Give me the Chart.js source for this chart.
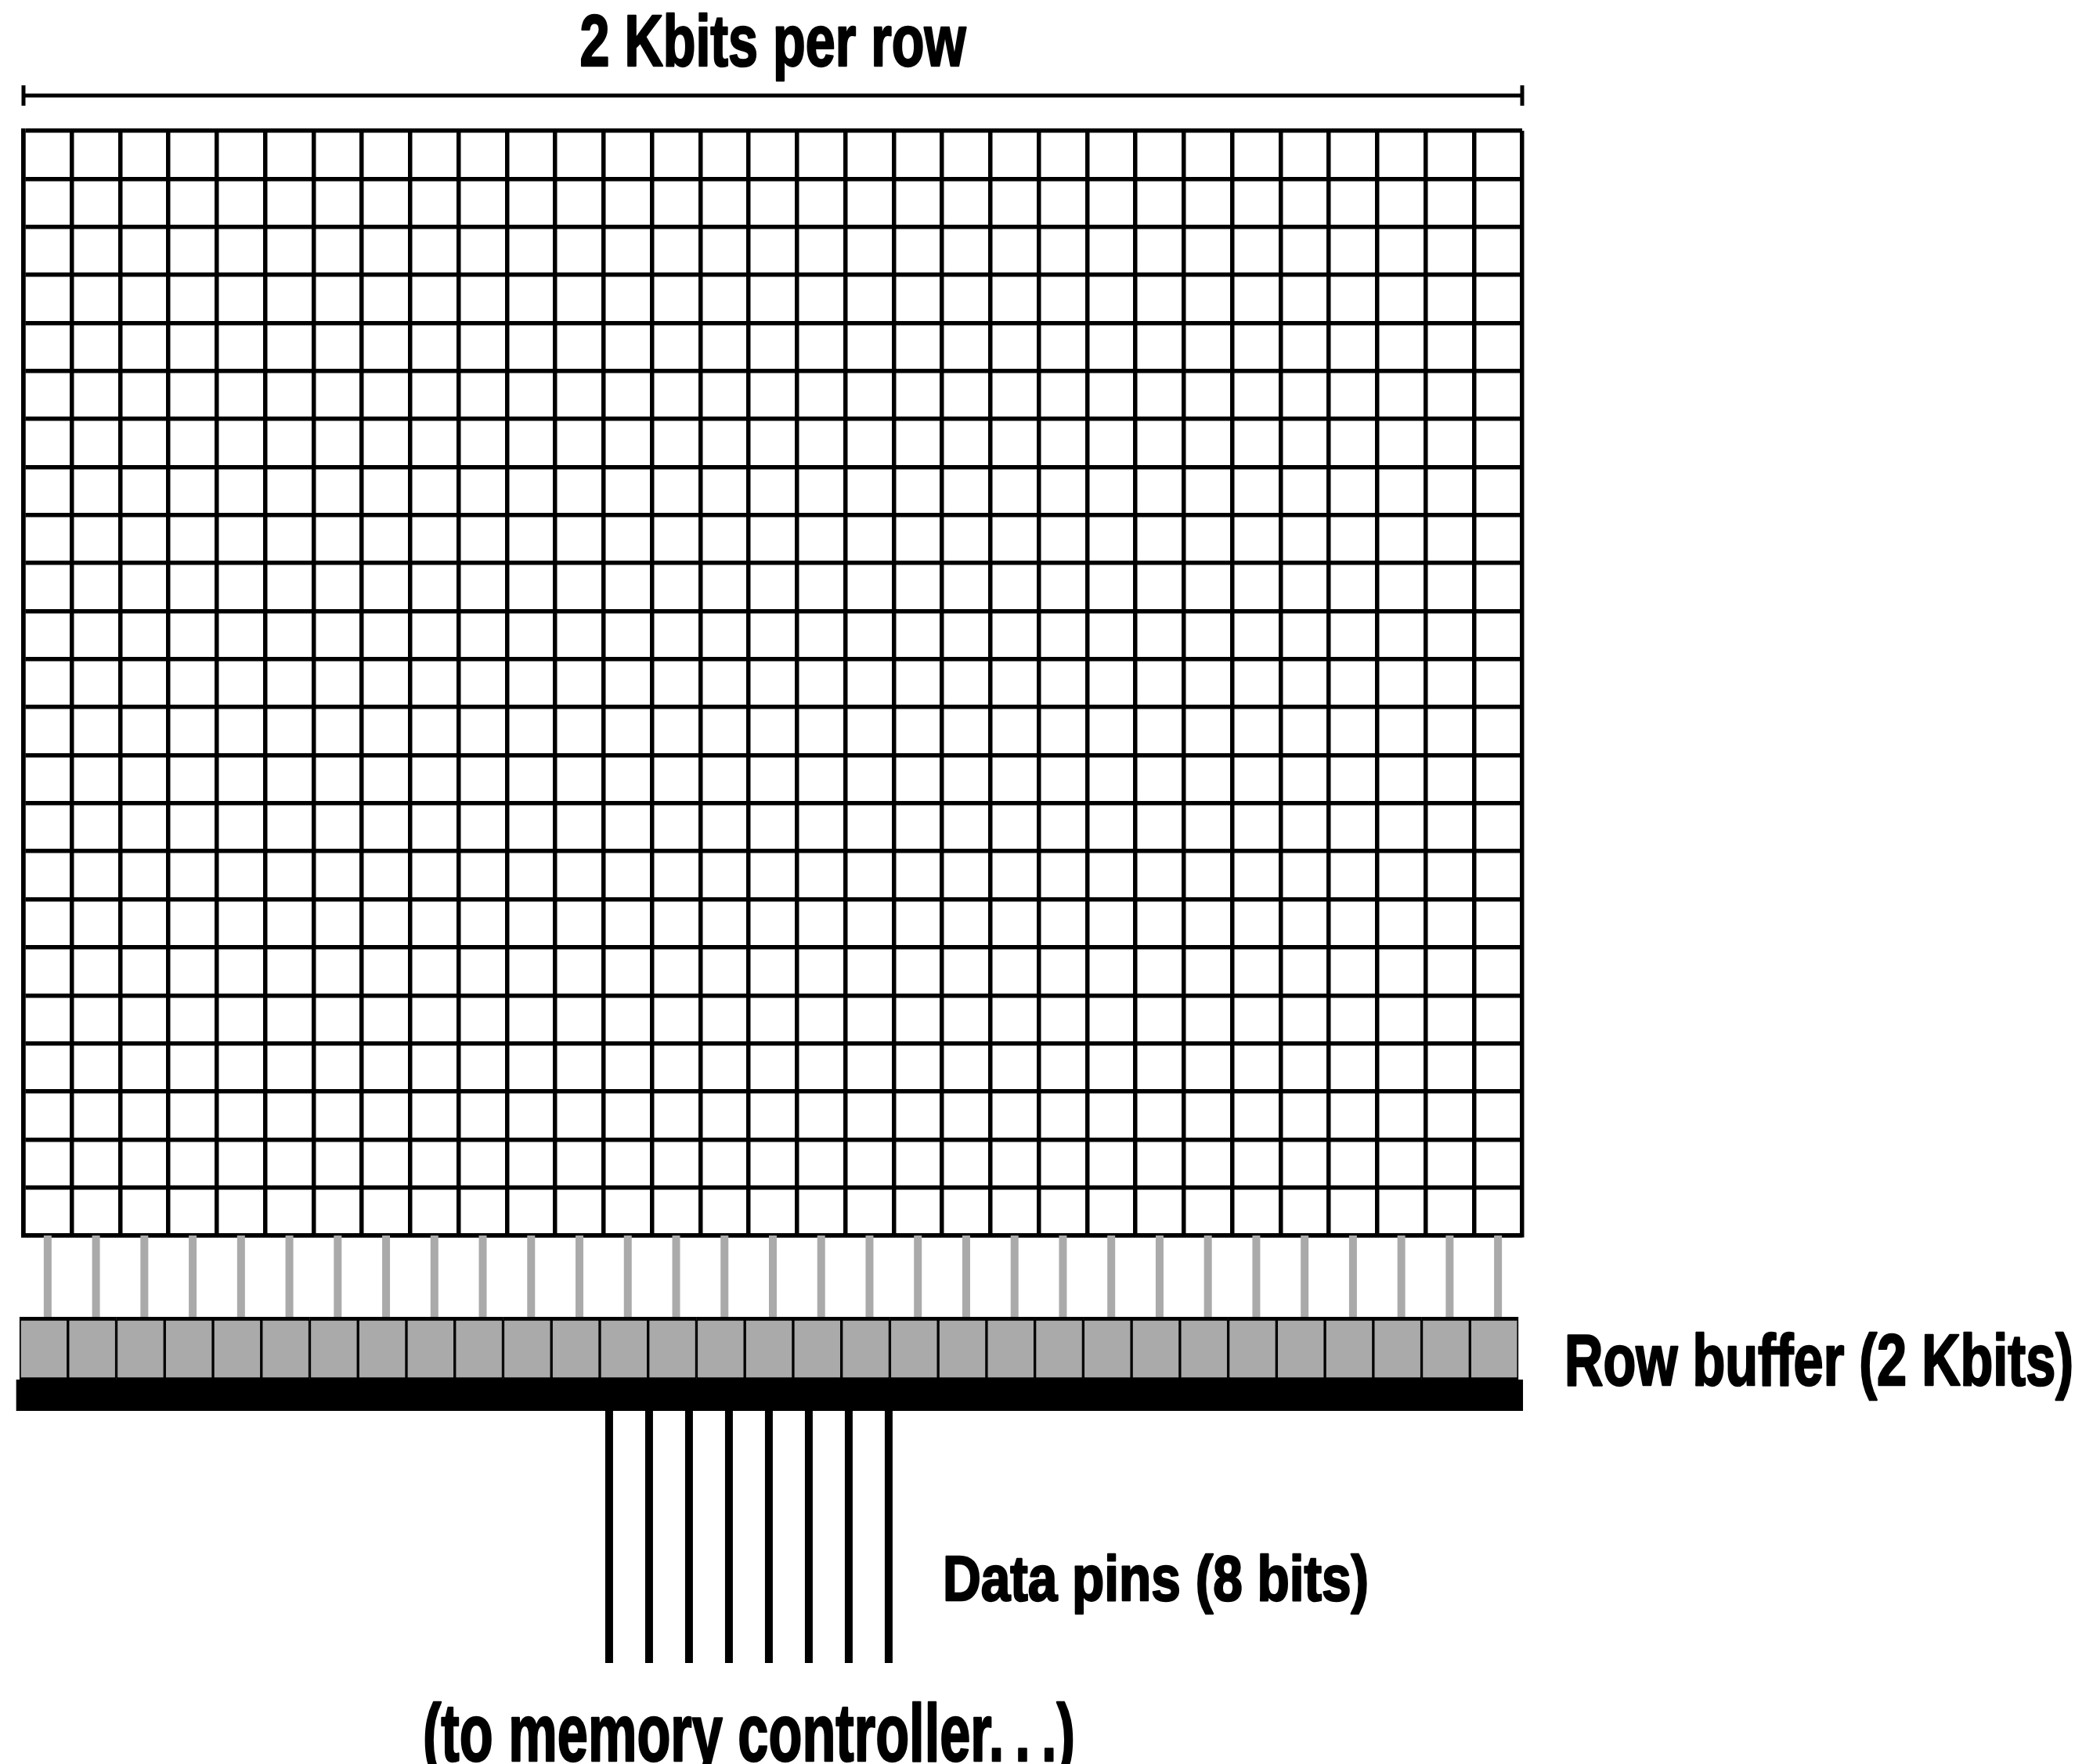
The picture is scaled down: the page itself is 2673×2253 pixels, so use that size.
<!DOCTYPE html>
<html>
<head>
<meta charset="utf-8">
<script src="https://cdn.jsdelivr.net/npm/chart.js@4.4.1/dist/chart.umd.min.js"></script>
<style>
  html, body { margin: 0; padding: 0; background: #ffffff; }
  #wrap { position: relative; width: 2673px; height: 2253px; }
</style>
</head>
<body>
<div id="wrap"><canvas id="dramChart"></canvas></div>
<script>
"use strict";
// memory array: columns of bit cells (one row = 2 Kbits, 31 drawn) and rows of cells
const bitColumns = [0, 1, 2, 3, 4, 5, 6, 7, 8, 9, 10, 11, 12, 13, 14, 15,
    16, 17, 18, 19, 20, 21, 22, 23, 24, 25, 26, 27, 28, 29, 30];
const cellRows = [0, 1, 2, 3, 4, 5, 6, 7, 8, 9, 10, 11, 12, 13, 14, 15, 16, 17, 18, 19, 20, 21, 22];
const dataPins = [0, 1, 2, 3, 4, 5, 6, 7];

const titleText = '2 Kbits per row';
const bufferText = 'Row buffer (2 Kbits)';
const pinsText = 'Data pins (8 bits)';
const footText = '(to memory controller.\u2009.\u2009.)';

// layout, in cell units of the scales
const nCols = bitColumns.length;
const nRows = cellRows.length;
const bracketY = -0.734, bracketTickTop = -0.945, bracketTickBottom = -0.522;
const bufferTop = 24.695, bufferBottom = 26.0, bufferShift = -0.08;
const barY = 26.325, barLeft = -0.151, barRight = 31.017;
const pinTop = 26.65, pinBottom = 31.9, pinCenter = 15.005, pinGap = 0.826;

const fontFamily = "'Liberation Sans Narrow', 'Liberation Sans', 'DejaVu Sans', sans-serif";

// segments separated by gaps
function segments(list) {
    let pts = [];
    list.forEach(s => {
        pts.push({ x: s[0], y: s[1] }, { x: s[2], y: s[3] }, { x: s[2], y: null });
    });
    return pts;
}

let connectorData = segments(bitColumns.map(c => [c + 0.5, nRows, c + 0.5, bufferTop]));
let pinData = segments(dataPins.map(p => {
    let x = pinCenter + (p - (dataPins.length - 1) / 2) * pinGap;
    return [x, pinTop, x, pinBottom];
}));
let bracketData = segments([
    [0, bracketY, nCols, bracketY],
    [0, bracketTickTop, 0, bracketTickBottom],
    [nCols, bracketTickTop, nCols, bracketTickBottom]
]);
let bufferData = bitColumns.map(c => ({ x: c + 0.5 + bufferShift, y: [bufferTop, bufferBottom] }));
let barData = segments([[barLeft, barY, barRight, barY]]);

function drawLabel(ctx, text, x, y, size, width, align) {
    ctx.save();
    ctx.font = 'bold ' + size + 'px ' + fontFamily;
    ctx.fillStyle = '#000000';
    ctx.strokeStyle = '#000000';
    ctx.lineWidth = 2.5;
    ctx.lineJoin = 'round';
    ctx.textBaseline = 'alphabetic';
    ctx.textAlign = 'left';
    let w = ctx.measureText(text).width;
    let sx = width / w;
    let left = align === 'center' ? x - width / 2 : x;
    ctx.translate(left, y);
    ctx.scale(sx, 1);
    ctx.fillText(text, 0, 0);
    ctx.strokeText(text, 0, 0);
    ctx.restore();
}

const labelPlugin = {
    id: 'labels',
    afterDraw(chart) {
        let ctx = chart.ctx;
        let xs = chart.scales.x;
        drawLabel(ctx, titleText, xs.getPixelForValue(nCols / 2), 84, 92, 493, 'center');
        drawLabel(ctx, bufferText, 1998, 1769, 92, 650, 'left');
        drawLabel(ctx, pinsText, 1204, 2044, 82, 544, 'left');
        drawLabel(ctx, footText, xs.getPixelForValue(pinCenter), 2249, 104, 833, 'center');
    }
};

document.addEventListener("DOMContentLoaded", function () {
    let canvas = document.getElementById('dramChart');
    let ctx = canvas.getContext('2d');
    new Chart(ctx, {
        type: 'bar',
        data: {
            datasets: [
                {
                    type: 'line',
                    label: 'bracket',
                    data: bracketData,
                    borderColor: '#000000',
                    borderWidth: 5,
                    pointRadius: 0,
                    spanGaps: false,
                    clip: false,
                    order: 1
                },
                {
                    type: 'line',
                    label: 'connectors',
                    data: connectorData,
                    borderColor: '#aaaaaa',
                    borderWidth: 10,
                    pointRadius: 0,
                    spanGaps: false,
                    clip: false,
                    order: 3
                },
                {
                    type: 'bar',
                    label: 'row buffer',
                    data: bufferData,
                    backgroundColor: '#aaaaaa',
                    borderColor: '#000000',
                    borderWidth: { top: 5, bottom: 3, left: 2, right: 2 },
                    borderSkipped: false,
                    barPercentage: 1,
                    categoryPercentage: 1,
                    clip: false,
                    order: 2
                },
                {
                    type: 'line',
                    label: 'bus',
                    data: barData,
                    borderColor: '#000000',
                    borderWidth: 40,
                    pointRadius: 0,
                    clip: false,
                    order: 1
                },
                {
                    type: 'line',
                    label: 'data pins',
                    data: pinData,
                    borderColor: '#000000',
                    borderWidth: 10,
                    pointRadius: 0,
                    spanGaps: false,
                    clip: false,
                    order: 1
                }
            ]
        },
        options: {
            responsive: true,
            maintainAspectRatio: false,
            animation: false,
            events: [],
            layout: {
                autoPadding: false,
                padding: { left: 30, top: 167, right: 729, bottom: 675 }
            },
            plugins: {
                legend: { display: false },
                tooltip: { enabled: false },
                title: { display: false }
            },
            scales: {
                x: {
                    type: 'linear',
                    offset: false,
                    min: 0,
                    max: nCols,
                    ticks: { stepSize: 1, display: false, autoSkip: false, maxTicksLimit: 200 },
                    grid: { offset: false, color: '#000000', lineWidth: 5.5, drawTicks: false },
                    border: { display: true, color: '#000000', width: 5.5 }
                },
                y: {
                    type: 'linear',
                    offset: false,
                    reverse: true,
                    min: 0,
                    max: nRows,
                    ticks: { stepSize: 1, display: false, autoSkip: false, maxTicksLimit: 200 },
                    grid: { offset: false, color: '#000000', lineWidth: 5.5, drawTicks: false },
                    border: { display: true, color: '#000000', width: 5.5 }
                }
            }
        },
        plugins: [labelPlugin]
    });
});
</script>
</body>
</html>
